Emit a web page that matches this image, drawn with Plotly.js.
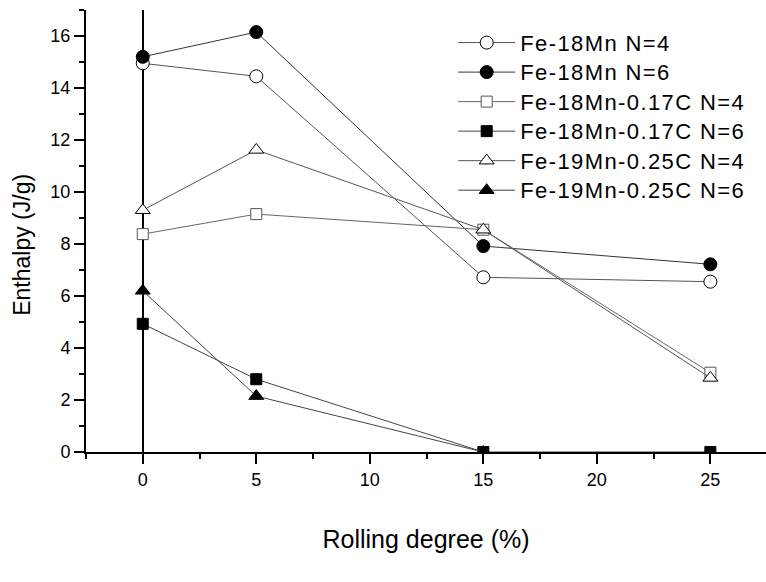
<!DOCTYPE html>
<html>
<head>
<meta charset="utf-8">
<script src="https://cdn.plot.ly/plotly-3.0.1.min.js"></script>
<style>
html,body{margin:0;padding:0;background:#fff;}
#chart{width:766px;height:582px;}
.legendtext{font-size:22px !important;letter-spacing:1.4px;}
</style>
</head>
<body>
<div id="chart"></div>
<script>
// Rolling degree (%)
const rolling = [0, 5, 15, 25];
const rollingTri6 = [0, 5, 15];

// Enthalpy (J/g)
const fe18Mn_N4 = [14.95, 14.45, 6.72, 6.55];
const fe18Mn_N6 = [15.2, 16.15, 7.92, 7.22];
const fe18Mn017C_N4 = [8.38, 9.15, 8.55, 3.05];
const fe18Mn017C_N6 = [4.93, 2.8, 0, 0];
const fe19Mn025C_N4 = [9.3, 11.62, 8.55, 2.85];
const fe19Mn025C_N6 = [6.2, 2.15, 0];

const seriesNames = [
  'Fe-18Mn N=4', 'Fe-18Mn N=6',
  'Fe-18Mn-0.17C N=4', 'Fe-18Mn-0.17C N=6',
  'Fe-19Mn-0.25C N=4', 'Fe-19Mn-0.25C N=6'
];

const xTickVals = [0, 5, 10, 15, 20, 25];
const yTickVals = [0, 2, 4, 6, 8, 10, 12, 14, 16];

const FONT = 'Liberation Sans, Arial, sans-serif';

function tr(name, x, y, symbol, fill, lineColor, size, outline) {
  return {
    type: 'scatter', mode: 'lines+markers', name: name, x: x, y: y,
    line: {color: lineColor, width: 1},
    marker: {symbol: symbol, size: size, color: fill, line: {color: outline, width: 1}}
  };
}

const data = [
  tr(seriesNames[0], rolling, fe18Mn_N4, 'circle', '#ffffff', '#555555', 13, '#000000'),
  tr(seriesNames[1], rolling, fe18Mn_N6, 'circle', '#000000', '#333333', 13, '#000000'),
  tr(seriesNames[2], rolling, fe18Mn017C_N4, 'square', '#ffffff', '#666666', 11, '#555555'),
  tr(seriesNames[3], rolling, fe18Mn017C_N6, 'square', '#000000', '#444444', 11, '#000000'),
  tr(seriesNames[4], rolling, fe19Mn025C_N4, 'triangle-up', '#ffffff', '#555555', 13, '#000000'),
  tr(seriesNames[5], rollingTri6, fe19Mn025C_N6, 'triangle-up', '#000000', '#444444', 13, '#000000')
];

const xr = [-2.5, 27.45];
const yr = [0, 17];

const layout = {
  width: 766, height: 582,
  margin: {l: 86, r: 0, t: 10, b: 130, pad: 0},
  paper_bgcolor: '#ffffff', plot_bgcolor: '#ffffff',
  font: {family: FONT, color: '#000000'},
  showlegend: true,
  legend: {
    x: 0.540, y: 0.971, xanchor: 'left', yanchor: 'top',
    bgcolor: 'rgba(0,0,0,0)', borderwidth: 0,
    font: {family: FONT, size: 20.4, color: '#000000'},
    itemwidth: 57, tracegroupgap: 0
  },
  xaxis: {
    range: xr, tickvals: xTickVals, ticktext: xTickVals.map(String),
    showgrid: false, zeroline: true, zerolinecolor: '#000000', zerolinewidth: 2,
    showline: true, linecolor: '#000000', linewidth: 2,
    ticks: 'outside', ticklen: 10, tickwidth: 2, tickcolor: '#000000',
    minor: {dtick: 2.5, tick0: 0, ticks: 'outside', ticklen: 5, tickwidth: 2, tickcolor: '#000000', showgrid: false},
    tickfont: {family: FONT, size: 18},
    title: {text: 'Rolling degree (%)', font: {family: FONT, size: 25}, standoff: 42}
  },
  xaxis2: {
    overlaying: 'x', side: 'top', range: xr, tickvals: xTickVals,
    showgrid: false, zeroline: false, showticklabels: false,
    showline: true, linecolor: '#000000', linewidth: 2,
    ticks: 'inside', ticklen: 10, tickwidth: 2, tickcolor: '#000000',
    minor: {dtick: 2.5, tick0: 0, ticks: 'inside', ticklen: 5, tickwidth: 2, tickcolor: '#000000', showgrid: false}
  },
  yaxis: {
    range: yr, tickvals: yTickVals, ticktext: yTickVals.map(String),
    showgrid: false, zeroline: false,
    showline: true, linecolor: '#000000', linewidth: 2,
    ticks: 'outside', ticklen: 10, tickwidth: 2, tickcolor: '#000000',
    minor: {dtick: 1, tick0: 0, ticks: 'outside', ticklen: 5, tickwidth: 2, tickcolor: '#000000', showgrid: false},
    tickfont: {family: FONT, size: 18}
  },
  yaxis2: {
    overlaying: 'y', side: 'right', range: yr, tickvals: yTickVals,
    showgrid: false, zeroline: false, showticklabels: false, showline: false,
    ticks: 'inside', ticklen: 10, tickwidth: 2, tickcolor: '#000000',
    minor: {dtick: 1, tick0: 0, ticks: 'inside', ticklen: 5, tickwidth: 2, tickcolor: '#000000', showgrid: false}
  },
  annotations: [{
    text: 'Enthalpy (J/g)', textangle: -90, showarrow: false,
    xref: 'paper', yref: 'paper', x: -0.094, y: 0.469,
    xanchor: 'center', yanchor: 'middle',
    font: {family: FONT, size: 23, color: '#000000'}
  }]
};

Plotly.newPlot('chart', data, layout, {displayModeBar: false, staticPlot: true});
</script>
</body>
</html>
